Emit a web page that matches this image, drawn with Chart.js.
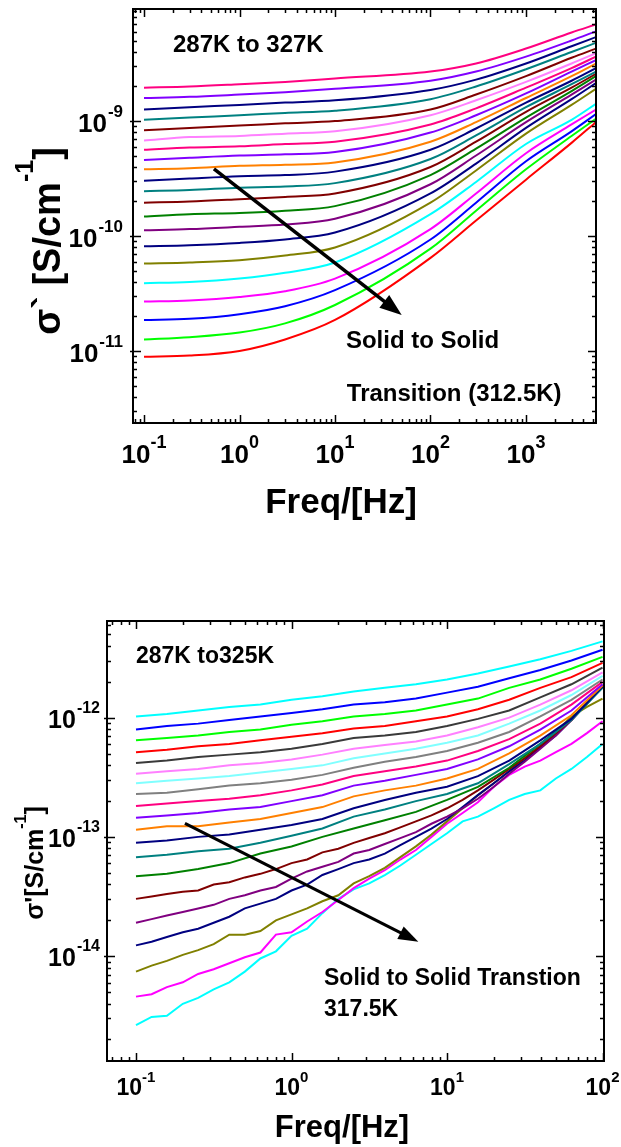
<!DOCTYPE html>
<html><head><meta charset="utf-8">
<script src="https://cdn.jsdelivr.net/npm/chart.js@4.4.1/dist/chart.umd.min.js"></script>
<style>
html,body{margin:0;padding:0;background:#fff;}
#wrap{position:relative;width:621px;height:1147px;overflow:hidden;background:#fff;}
canvas{position:absolute;left:0;}
</style></head><body>
<div id="wrap">
<canvas id="c1" width="621" height="540" style="top:0px"></canvas>
<canvas id="c2" width="621" height="607" style="top:540px"></canvas>
</div>
<script>
// ---------------- TOP CHART DATA (log10 of sigma' in S/cm) ----------------
const top_freq_Hz = [0.1, 0.3, 1, 3, 10, 100, 300, 1000, 3000, 5400];
const top_287K = [-11.05,-11.04,-11.00,-10.90,-10.73,-10.19,-9.865,-9.51,-9.19,-9.01];
const top_289K = [-10.90,-10.88,-10.84,-10.76,-10.60,-10.11,-9.78,-9.42,-9.13,-8.98];
const top_291K = [-10.73,-10.72,-10.68,-10.61,-10.47,-10.03,-9.71,-9.35,-9.09,-8.94];
const top_293K = [-10.57,-10.56,-10.53,-10.48,-10.37,-9.94,-9.63,-9.28,-9.03,-8.90];
const top_295K = [-10.41,-10.40,-10.37,-10.32,-10.23,-9.81,-9.53,-9.20,-8.99,-8.85];
const top_297K = [-10.24,-10.23,-10.21,-10.17,-10.10,-9.71,-9.43,-9.11,-8.86,-8.72];
const top_299K = [-10.09,-10.08,-10.06,-10.03,-9.97,-9.63,-9.37,-9.06,-8.81,-8.67];
const top_301K = [-9.95,-9.94,-9.92,-9.90,-9.85,-9.55,-9.30,-9.01,-8.77,-8.64];
const top_303K = [-9.83,-9.81,-9.80,-9.78,-9.74,-9.47,-9.24,-8.97,-8.74,-8.61];
const top_305K = [-9.71,-9.70,-9.68,-9.66,-9.63,-9.40,-9.18,-8.92,-8.71,-8.59];
const top_307K = [-9.61,-9.60,-9.58,-9.57,-9.54,-9.33,-9.125,-8.88,-8.68,-8.57];
const top_309K = [-9.52,-9.50,-9.48,-9.47,-9.44,-9.25,-9.065,-8.84,-8.65,-8.54];
const top_311K = [-9.42,-9.41,-9.39,-9.38,-9.36,-9.18,-9.01,-8.80,-8.61,-8.50];
const top_313K = [-9.34,-9.32,-9.30,-9.29,-9.27,-9.10,-8.95,-8.76,-8.57,-8.47];
const top_315K = [-9.25,-9.23,-9.22,-9.20,-9.18,-9.03,-8.89,-8.71,-8.54,-8.44];
const top_317K = [-9.17,-9.14,-9.13,-9.11,-9.09,-8.95,-8.82,-8.66,-8.50,-8.41];
const top_319K = [-9.08,-9.06,-9.04,-9.02,-9.00,-8.90,-8.77,-8.61,-8.45,-8.37];
const top_321K = [-8.99,-8.97,-8.95,-8.93,-8.91,-8.81,-8.70,-8.55,-8.40,-8.32];
const top_323K = [-8.90,-8.88,-8.86,-8.84,-8.82,-8.73,-8.64,-8.50,-8.35,-8.27];
const top_325K = [-8.80,-8.79,-8.77,-8.75,-8.72,-8.65,-8.57,-8.44,-8.30,-8.22];
const top_327K = [-8.71,-8.70,-8.68,-8.66,-8.63,-8.57,-8.50,-8.37,-8.23,-8.16];
const top_names = ['287 K','289 K','291 K','293 K','295 K','297 K','299 K','301 K','303 K','305 K','307 K','309 K','311 K','313 K','315 K','317 K','319 K','321 K','323 K','325 K','327 K'];
const top_values = [top_287K,top_289K,top_291K,top_293K,top_295K,top_297K,top_299K,top_301K,top_303K,top_305K,top_307K,top_309K,top_311K,top_313K,top_315K,top_317K,top_319K,top_321K,top_323K,top_325K,top_327K];
const top_colors = ['#FF0000','#00FF00','#0000FF','#FF00FF','#00FFFF','#808000','#000080','#800080','#008000','#800000','#008080','#000080','#FF8000','#8000FF','#FF0080','#FF80FF','#800000','#008080','#000080','#8000FF','#FF0080'];
const top_x_tick_exponents = [-1, 0, 1, 2, 3];
const top_y_tick_exponents = [-9, -10, -11];

// ---------------- BOTTOM CHART DATA (log10 of sigma' in S/cm) ----------------
const bot_freq_coarse_Hz = [0.1,0.158,0.251,0.398,0.631,1,1.58,2.51,3.98,6.31,10,15.8,25.1,39.8,63.1,100];
const bot_freq_fine_Hz = [0.1,0.126,0.158,0.2,0.251,0.316,0.398,0.501,0.631,0.794,1,1.26,1.58,2,2.51,3.16,3.98,5.01,6.31,7.94,10,12.6,15.8,20,25.1,31.6,39.8,50.1,63.1,79.4,100];
const bot_325K = [-11.99,-11.97,-11.94,-11.91,-11.89,-11.85,-11.82,-11.78,-11.75,-11.72,-11.68,-11.63,-11.57,-11.51,-11.44,-11.36];
const bot_323K = [-12.10,-12.07,-12.05,-12.02,-11.99,-11.96,-11.93,-11.89,-11.87,-11.84,-11.79,-11.74,-11.67,-11.60,-11.52,-11.43];
const bot_321K = [-12.19,-12.17,-12.15,-12.12,-12.10,-12.06,-12.03,-11.99,-11.97,-11.94,-11.89,-11.84,-11.75,-11.68,-11.59,-11.49];
const bot_319K = [-12.29,-12.27,-12.24,-12.22,-12.19,-12.16,-12.13,-12.09,-12.07,-12.03,-11.99,-11.93,-11.85,-11.75,-11.66,-11.54];
const bot_317K = [-12.38,-12.36,-12.33,-12.31,-12.29,-12.26,-12.22,-12.17,-12.15,-12.12,-12.07,-12.01,-11.94,-11.83,-11.72,-11.58];
const bot_315K = [-12.47,-12.45,-12.43,-12.40,-12.38,-12.35,-12.31,-12.26,-12.23,-12.20,-12.15,-12.08,-12.00,-11.89,-11.77,-11.62];
const bot_313K = [-12.55,-12.53,-12.51,-12.49,-12.46,-12.43,-12.40,-12.34,-12.30,-12.26,-12.21,-12.15,-12.05,-11.94,-11.81,-11.65];
const bot_311K = [-12.64,-12.63,-12.60,-12.57,-12.55,-12.52,-12.48,-12.42,-12.37,-12.33,-12.28,-12.21,-12.12,-11.99,-11.85,-11.68];
const bot_309K = [-12.74,-12.72,-12.70,-12.68,-12.65,-12.61,-12.56,-12.49,-12.45,-12.41,-12.36,-12.28,-12.18,-12.05,-11.89,-11.70];
const bot_307K = [-12.84,-12.82,-12.80,-12.77,-12.75,-12.70,-12.65,-12.57,-12.53,-12.48,-12.43,-12.35,-12.24,-12.10,-11.94,-11.72];
const bot_305K = [-12.94,-12.91,-12.91,-12.88,-12.85,-12.80,-12.75,-12.66,-12.61,-12.57,-12.51,-12.43,-12.30,-12.15,-11.98,-11.73];
const bot_303K = [-13.05,-13.03,-13.00,-12.98,-12.94,-12.90,-12.85,-12.76,-12.69,-12.63,-12.58,-12.49,-12.36,-12.19,-12.01,-11.74];
const bot_301K = [-13.17,-13.15,-13.12,-13.10,-13.05,-12.99,-12.93,-12.83,-12.77,-12.70,-12.64,-12.55,-12.39,-12.22,-12.02,-11.75];
const bot_299K = [-13.33,-13.31,-13.27,-13.22,-13.14,-13.08,-13.00,-12.93,-12.86,-12.79,-12.69,-12.58,-12.42,-12.22,-12.01,-11.74];
const bot_297K = [-13.52,-13.50,-13.48,-13.46,-13.45,-13.40,-13.38,-13.34,-13.31,-13.27,-13.22,-13.19,-13.13,-13.10,-13.05,-13.01,-12.97,-12.92,-12.87,-12.82,-12.76,-12.69,-12.61,-12.52,-12.43,-12.34,-12.24,-12.13,-12.02,-11.88,-11.74];
const bot_295K = [-13.72,-13.69,-13.66,-13.63,-13.60,-13.57,-13.52,-13.49,-13.45,-13.42,-13.35,-13.29,-13.25,-13.21,-13.14,-13.11,-13.06,-13.01,-12.96,-12.89,-12.83,-12.76,-12.68,-12.58,-12.47,-12.37,-12.26,-12.15,-12.02,-11.88,-11.73];
const bot_293K = [-13.91,-13.88,-13.84,-13.80,-13.77,-13.72,-13.67,-13.60,-13.56,-13.52,-13.45,-13.40,-13.32,-13.27,-13.22,-13.19,-13.14,-13.07,-13.00,-12.93,-12.85,-12.75,-12.65,-12.55,-12.45,-12.36,-12.25,-12.15,-12.02,-11.88,-11.73];
const bot_291K = [-14.13,-14.08,-14.04,-13.99,-13.95,-13.90,-13.82,-13.82,-13.79,-13.70,-13.65,-13.60,-13.54,-13.49,-13.39,-13.33,-13.26,-13.17,-13.08,-12.98,-12.87,-12.76,-12.65,-12.55,-12.45,-12.34,-12.24,-12.12,-11.99,-11.91,-11.84];
const bot_289K = [-14.34,-14.32,-14.26,-14.22,-14.15,-14.11,-14.06,-14.01,-13.97,-13.82,-13.80,-13.71,-13.63,-13.53,-13.43,-13.35,-13.28,-13.19,-13.11,-13.00,-12.89,-12.80,-12.71,-12.58,-12.48,-12.41,-12.36,-12.29,-12.22,-12.13,-12.03];
const bot_287K = [-14.58,-14.51,-14.50,-14.40,-14.35,-14.28,-14.22,-14.13,-14.02,-13.96,-13.83,-13.77,-13.64,-13.52,-13.44,-13.39,-13.32,-13.24,-13.15,-13.06,-12.97,-12.87,-12.83,-12.76,-12.69,-12.64,-12.61,-12.51,-12.43,-12.33,-12.22];
const bot_names = ['325 K','323 K','321 K','319 K','317 K','315 K','313 K','311 K','309 K','307 K','305 K','303 K','301 K','299 K','297 K','295 K','293 K','291 K','289 K','287 K'];
const bot_values = [bot_325K,bot_323K,bot_321K,bot_319K,bot_317K,bot_315K,bot_313K,bot_311K,bot_309K,bot_307K,bot_305K,bot_303K,bot_301K,bot_299K,bot_297K,bot_295K,bot_293K,bot_291K,bot_289K,bot_287K];
const bot_colors = ['#00FFFF','#0000FF','#00FF00','#FF0000','#3A3A3A','#FF80FF','#80FFFF','#808080','#FF0080','#8000FF','#FF8000','#000080','#008080','#008000','#800000','#800080','#000080','#808000','#FF00FF','#00FFFF'];
const bot_x_tick_exponents = [-1, 0, 1, 2];
const bot_y_tick_exponents = [-12, -13, -14];

const FONT = '"Liberation Sans", Arial, Helvetica, sans-serif';

function drawSegs(ctx, segs, x, y, align) {
  let total = 0;
  segs.forEach(s => { ctx.font = s.font; s.w = ctx.measureText(s.t).width; total += s.w + (s.gap || 0); });
  let cx = align === 'center' ? x - total / 2 : (align === 'right' ? x - total : x);
  segs.forEach(s => { ctx.font = s.font; ctx.fillText(s.t, cx, y + (s.dy || 0)); cx += s.w + (s.gap || 0); });
}

function drawArrow(ctx, sx, sy, a, lw, hl, hw) {
  const x1 = sx.getPixelForValue(a.from[0]), y1 = sy.getPixelForValue(a.from[1]);
  const x2 = sx.getPixelForValue(a.to[0]), y2 = sy.getPixelForValue(a.to[1]);
  const ang = Math.atan2(y2 - y1, x2 - x1);
  const bx = x2 - hl * Math.cos(ang), by = y2 - hl * Math.sin(ang);
  ctx.strokeStyle = '#000'; ctx.fillStyle = '#000'; ctx.lineWidth = lw; ctx.lineCap = 'butt';
  ctx.beginPath(); ctx.moveTo(x1, y1); ctx.lineTo(bx + 2 * Math.cos(ang), by + 2 * Math.sin(ang)); ctx.stroke();
  ctx.beginPath(); ctx.moveTo(x2, y2);
  ctx.lineTo(bx + hw * Math.sin(ang), by - hw * Math.cos(ang));
  ctx.lineTo(bx - hw * Math.sin(ang), by + hw * Math.cos(ang));
  ctx.closePath(); ctx.fill();
}

function logTicks(min, max) {
  const out = [];
  for (let e = Math.floor(Math.log10(min)) - 1; e <= Math.ceil(Math.log10(max)); e++) {
    for (let m = 1; m < 10; m++) {
      const v = m * Math.pow(10, e);
      if (v >= min && v <= max) out.push({ v, major: m === 1 });
    }
  }
  return out;
}

function decorPlugin(cfg) {
  return {
    id: 'decor',
    afterDraw(chart) {
      const ctx = chart.ctx, a = chart.chartArea, sx = chart.scales.x, sy = chart.scales.y;
      ctx.save();
      ctx.fillStyle = '#000'; ctx.strokeStyle = '#000';
      ctx.lineWidth = 1.5;
      logTicks(sx.min, sx.max).forEach(t => {
        const px = Math.round(sx.getPixelForValue(t.v)) + 0.5;
        const len = t.major ? cfg.majorLen : cfg.minorLen;
        ctx.beginPath();
        ctx.moveTo(px, a.bottom); ctx.lineTo(px, a.bottom - len);
        ctx.moveTo(px, a.top); ctx.lineTo(px, a.top + len);
        ctx.stroke();
      });
      logTicks(sy.min, sy.max).forEach(t => {
        const py = Math.round(sy.getPixelForValue(t.v)) + 0.5;
        const len = t.major ? cfg.majorLen : cfg.minorLen;
        ctx.beginPath();
        ctx.moveTo(a.left - (t.major ? 3 : 0), py); ctx.lineTo(a.left + len, py);
        ctx.moveTo(a.right, py); ctx.lineTo(a.right - len, py);
        ctx.stroke();
      });
      ctx.lineWidth = cfg.frameW;
      ctx.strokeRect(a.left, a.top, a.right - a.left, a.bottom - a.top);
      ctx.textBaseline = 'alphabetic';
      cfg.xExps.forEach(e => {
        const px = sx.getPixelForValue(Math.pow(10, e));
        drawSegs(ctx, [
          { t: '10', font: 'bold ' + cfg.xMain + 'px ' + FONT },
          { t: String(e), font: 'bold ' + cfg.xSup + 'px ' + FONT, dy: cfg.xSupDy }
        ], px, a.bottom + cfg.xBase, 'center');
      });
      cfg.yExps.forEach(e => {
        const py = sy.getPixelForValue(Math.pow(10, e));
        drawSegs(ctx, [
          { t: '10', font: 'bold ' + cfg.yMain + 'px ' + FONT, gap: 1 },
          { t: String(e), font: 'bold ' + cfg.ySup + 'px ' + FONT, dy: cfg.ySupDy }
        ], a.left - cfg.yGap, py + cfg.yBase, 'right');
      });
      drawSegs(ctx, [{ t: 'Freq/[Hz]', font: 'bold ' + cfg.xTitleSize + 'px ' + FONT }],
        a.left + cfg.xTitleDx, a.bottom + cfg.xTitleDy, 'center');
      ctx.save();
      ctx.translate(a.left - cfg.yTitleDx, a.top + cfg.yTitleDy);
      ctx.rotate(-Math.PI / 2);
      drawSegs(ctx, [
        { t: cfg.yTitleMain, font: 'bold ' + cfg.yTitleSize + 'px ' + FONT },
        { t: '-1', font: 'bold ' + cfg.yTitleSup + 'px ' + FONT, dy: cfg.yTitleSupDy },
        { t: ']', font: 'bold ' + cfg.yTitleSize + 'px ' + FONT }
      ], 0, 0, 'center');
      ctx.restore();
      cfg.texts.forEach(t => {
        ctx.font = 'bold ' + cfg.annSize + 'px ' + FONT;
        ctx.fillText(t.text, sx.getPixelForValue(t.at[0]), sy.getPixelForValue(t.at[1]));
      });
      drawArrow(ctx, sx, sy, cfg.arrow, cfg.arrowW, cfg.headL, cfg.headW);
      ctx.restore();
    }
  };
}

function makeChart(id, datasets, xr, yr, padding, cfg) {
  return new Chart(document.getElementById(id), {
    type: 'line',
    data: { datasets },
    options: {
      responsive: false, animation: false, devicePixelRatio: 1, events: [],
      layout: { padding },
      plugins: { legend: { display: false }, tooltip: { enabled: false } },
      elements: { point: { radius: 0 } },
      scales: {
        x: { type: 'logarithmic', min: xr[0], max: xr[1], bounds: 'data', display: false },
        y: { type: 'logarithmic', min: yr[0], max: yr[1], bounds: 'data', display: false }
      }
    },
    plugins: [decorPlugin(cfg)]
  });
}

const topDatasets = top_values.map((vals, i) => ({
  label: top_names[i],
  data: top_freq_Hz.map((f, j) => ({ x: f, y: Math.pow(10, vals[j]) })),
  borderColor: top_colors[i], borderWidth: 2, fill: false,
  cubicInterpolationMode: 'monotone'
})).reverse();

makeChart('c1', topDatasets, [0.0767, 5408], [2.366e-12, 9.42e-9],
  { left: 133, top: 9, right: 25, bottom: 117 },
  {
    majorLen: 8, minorLen: 4, frameW: 2,
    xExps: top_x_tick_exponents, xMain: 26, xSup: 18, xSupDy: -15, xBase: 40,
    yExps: top_y_tick_exponents, yMain: 26, ySup: 17, ySupDy: -15, yBase: 11, yGap: 10,
    xTitleSize: 35, xTitleDx: 208, xTitleDy: 90,
    yTitleMain: 'σ` [S/cm', yTitleSize: 38, yTitleSup: 25, yTitleSupDy: -27, yTitleDx: 73, yTitleDy: 232,
    annSize: 24,
    texts: [
      { text: '287K to 327K', at: [0.201, 3.96e-9] },
      { text: 'Solid to Solid', at: [13.0, 1.056e-11] },
      { text: 'Transition (312.5K)', at: [13.3, 3.64e-12] }
    ],
    arrow: { from: [0.54, 3.83e-10], to: [49.9, 2.06e-11] }, arrowW: 3.5, headL: 22, headW: 8
  });

const botDatasets = bot_values.map((vals, i) => {
  const fr = vals.length === bot_freq_fine_Hz.length ? bot_freq_fine_Hz : bot_freq_coarse_Hz;
  return {
    label: bot_names[i],
    data: fr.map((f, j) => ({ x: f, y: Math.pow(10, vals[j]) })),
    borderColor: bot_colors[i], borderWidth: 2, fill: false, tension: 0
  };
});

makeChart('c2', botDatasets, [0.0651, 102.2], [1.318e-15, 6.47e-12],
  { left: 107, top: 81, right: 17, bottom: 86 },
  {
    majorLen: 8, minorLen: 4, frameW: 2,
    xExps: bot_x_tick_exponents, xMain: 23, xSup: 15, xSupDy: -13, xBase: 34,
    yExps: bot_y_tick_exponents, yMain: 25, ySup: 16, ySupDy: -15, yBase: 10, yGap: 7,
    xTitleSize: 31, xTitleDx: 235, xTitleDy: 76,
    yTitleMain: "σ'[S/cm", yTitleSize: 25, yTitleSup: 16, yTitleSupDy: -17, yTitleDx: 64, yTitleDy: 242,
    annSize: 23,
    texts: [
      { text: '287K to325K', at: [0.1, 2.88e-12] },
      { text: 'Solid to Solid Transtion', at: [1.618, 5.72e-15] },
      { text: '317.5K', at: [1.618, 3.14e-15] }
    ],
    arrow: { from: [0.2065, 1.30e-13], to: [6.54, 1.32e-14] }, arrowW: 3, headL: 20, headW: 7
  });
</script>
</body></html>
